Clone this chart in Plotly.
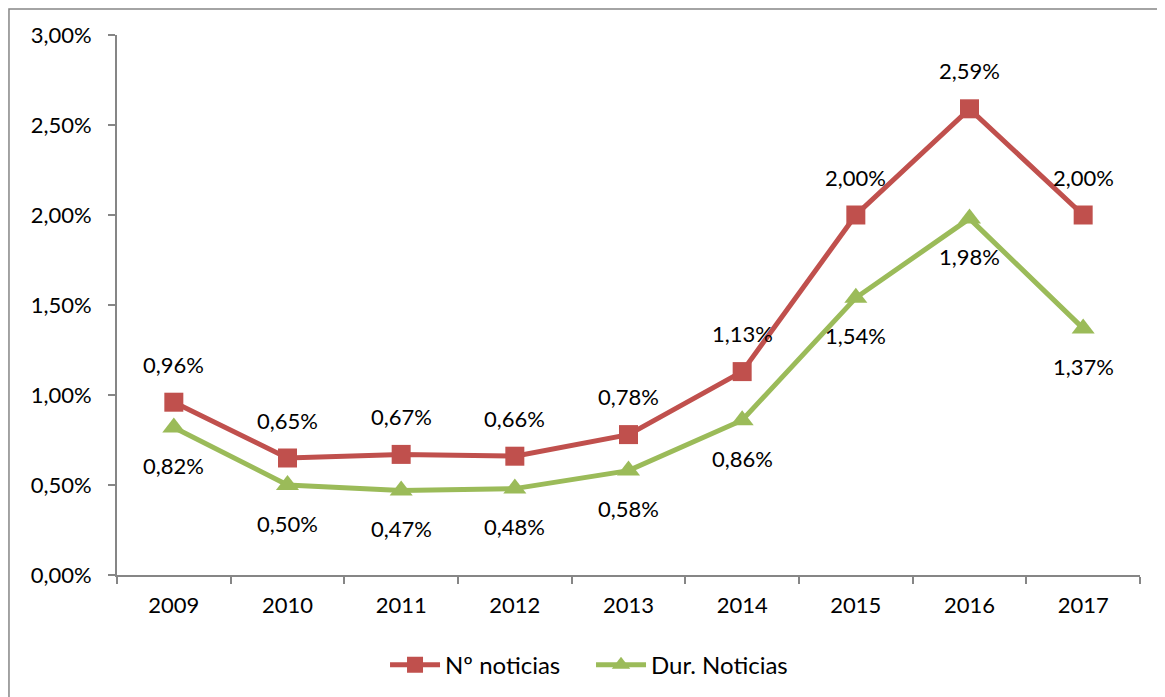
"""Porcentaje de Nº y duración de noticias por año."""

import plotly.graph_objects as go

years = ["2009", "2010", "2011", "2012", "2013", "2014", "2015", "2016", "2017"]
num_noticias = [0.0096, 0.0065, 0.0067, 0.0066, 0.0078, 0.0113, 0.0200, 0.0259, 0.0200]
dur_noticias = [0.0082, 0.0050, 0.0047, 0.0048, 0.0058, 0.0086, 0.0154, 0.0198, 0.0137]

RED = "#C0504D"
GREEN = "#9BBB59"
FONT = "Lato"


def pct(v):
    return f"{v * 100:.2f}%".replace(".", ",")


fig = go.Figure()
fig.add_trace(go.Scatter(
    x=years, y=num_noticias, mode="lines+markers", name="Nº noticias",
    line=dict(color=RED, width=5),
    marker=dict(symbol="square", size=19, color=RED),
))
fig.add_trace(go.Scatter(
    x=years, y=dur_noticias, mode="lines+markers", name="Dur. Noticias",
    line=dict(color=GREEN, width=5),
    marker=dict(symbol="triangle-up", size=20, color=GREEN),
))

# data labels: red above, green below
for i, v in enumerate(num_noticias):
    fig.add_annotation(x=i, y=v, xref="x", yref="y", text=pct(v), showarrow=False,
                       yshift=38, font=dict(size=22, color="black", family=FONT))
for i, v in enumerate(dur_noticias):
    fig.add_annotation(x=i, y=v, xref="x", yref="y", text=pct(v), showarrow=False,
                       yshift=-38, font=dict(size=22, color="black", family=FONT))

# outer chart frame (runs off the right and bottom edges)
fig.add_shape(type="rect", xref="paper", yref="paper",
              x0=-0.1056, y0=-0.3, x1=1.1, y1=1.048,
              line=dict(color="#868686", width=1.5), layer="below")

fig.update_layout(
    width=1165, height=697,
    margin=dict(l=109, r=33, t=27, b=130),
    plot_bgcolor="white", paper_bgcolor="white",
    separators=",.",
    font=dict(family=FONT, size=22, color="black"),
    showlegend=True,
    legend=dict(orientation="h", x=0.262, xanchor="left", y=-0.167, yanchor="middle",
                font=dict(size=24), itemwidth=50, entrywidth=141, entrywidthmode="pixels",
                bgcolor="rgba(0,0,0,0)"),
)
fig.update_xaxes(
    type="category", range=[-0.5, 8.5], tickson="boundaries",
    showline=True, linecolor="#868686", linewidth=2,
    ticks="outside", ticklen=7, tickcolor="#868686", tickwidth=2,
    showgrid=False, tickfont=dict(size=22), ticklabelstandoff=10,
)
fig.update_yaxes(
    range=[0, 0.03], dtick=0.005, tickformat=".2%",
    showline=True, linecolor="#868686", linewidth=2,
    ticks="outside", ticklen=7, tickcolor="#868686", tickwidth=2,
    showgrid=False, zeroline=False, tickfont=dict(size=22), ticklabelstandoff=12,
)

fig.write_html("out.html")
